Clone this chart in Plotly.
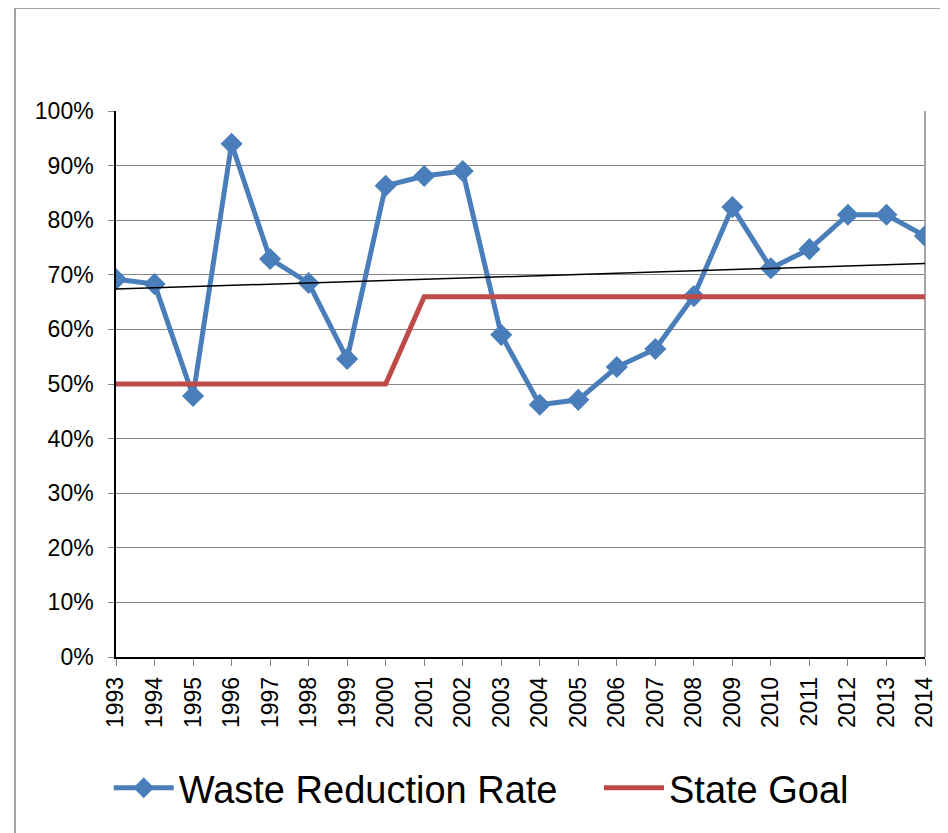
import numpy as np
import plotly.graph_objects as go

years = list(range(1993, 2015))
waste_reduction = [69.2, 68.3, 47.8, 94.0, 72.9, 68.5, 54.6, 86.3, 88.1, 89.0, 59.0,
                   46.2, 47.1, 53.1, 56.4, 66.1, 82.4, 71.2, 74.7, 81.0, 81.0, 77.1]
state_goal = [50, 50, 50, 50, 50, 50, 50, 50, 66, 66, 66,
              66, 66, 66, 66, 66, 66, 66, 66, 66, 66, 66]
y_ticks = [0, 10, 20, 30, 40, 50, 60, 70, 80, 90, 100]
y_labels = [f"{v}%" for v in y_ticks]

slope, intercept = np.polyfit(years, waste_reduction, 1)
trend = [slope * y + intercept for y in years]

BLUE = "#4A7EBB"
RED = "#BE4B48"
GRAY = "#868686"
FONT = "Liberation Sans, Arial, sans-serif"

fig = go.Figure()
fig.add_trace(go.Scatter(
    x=years, y=waste_reduction, mode="lines+markers", name="Waste Reduction Rate",
    line=dict(color=BLUE, width=5),
    marker=dict(symbol="diamond", size=17, color=BLUE),
    legend="legend",
))
fig.add_trace(go.Scatter(
    x=years, y=state_goal, mode="lines", name="State Goal",
    line=dict(color=RED, width=5),
    legend="legend2",
))
fig.add_trace(go.Scatter(
    x=years, y=trend, mode="lines", name="Trend", showlegend=False,
    line=dict(color="black", width=1.5), hoverinfo="skip",
))

shapes = [
    # outer chart frame (left, top, right)
    dict(type="line", xref="paper", yref="paper", x0=-0.1248, x1=-0.1248, y0=1.1886, y1=-0.4,
         line=dict(color=GRAY, width=1.5)),
    dict(type="line", xref="paper", yref="paper", x0=-0.1248, x1=1.0235, y0=1.1886, y1=1.1886,
         line=dict(color=GRAY, width=1.5)),
    dict(type="line", xref="paper", yref="paper", x0=1.0235, x1=1.0235, y0=1.1886, y1=-0.4,
         line=dict(color=GRAY, width=1.5)),
    # plot area right border
    dict(type="line", xref="paper", yref="paper", x0=1, x1=1, y0=0, y1=1,
         line=dict(color=GRAY, width=1.5), layer="below"),
]

legend_common = dict(
    orientation="h", yref="container", y=0.0545, yanchor="middle", xanchor="left",
    font=dict(size=38, family=FONT), itemwidth=60, bgcolor="rgba(0,0,0,0)",
)

fig.update_layout(
    width=940, height=825,
    margin=dict(l=108, r=23, t=103, b=176, autoexpand=False),
    paper_bgcolor="white", plot_bgcolor="white",
    font=dict(family=FONT, color="black"),
    shapes=shapes,
    showlegend=True,
    legend=dict(legend_common, x=-0.009),
    legend2=dict(legend_common, x=0.597),
    xaxis=dict(
        range=[1993, 2014], tickmode="array", tickvals=years,
        ticktext=[str(y) for y in years], tickangle=-90,
        tickfont=dict(size=23, family=FONT),
        showgrid=False, zeroline=False,
        showline=True, linecolor="black", linewidth=1.5,
        ticks="outside", ticklen=7, tickcolor=GRAY, tickwidth=1,
        ticklabelstandoff=2,
    ),
    yaxis=dict(
        range=[0, 100], tickmode="array", tickvals=y_ticks, ticktext=y_labels,
        tickfont=dict(size=23, family=FONT),
        showgrid=True, gridcolor=GRAY, gridwidth=1, zeroline=False,
        showline=True, linecolor="black", linewidth=1.5,
        ticks="outside", ticklen=6, tickcolor=GRAY, tickwidth=1,
        ticklabelstandoff=10,
    ),
)

fig.write_html("out.html")
